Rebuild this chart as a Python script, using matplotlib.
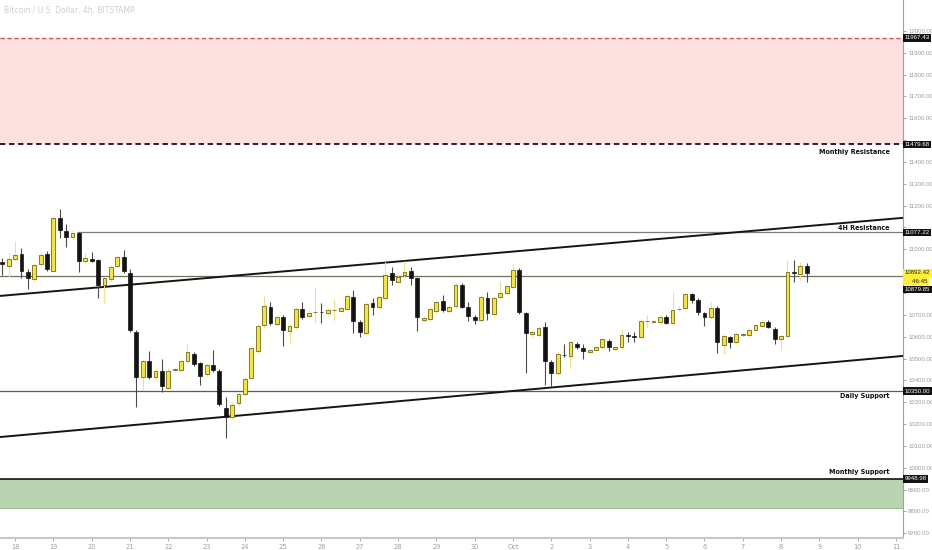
import numpy as np
import pandas as pd
import matplotlib
matplotlib.use("Agg")
import matplotlib.pyplot as plt
import matplotlib.dates as mdates
from datetime import datetime, timedelta

# BTC/USD 4h candles, Sep 17 16:00 -> Oct 8 16:00 (2020)
opens = [10943, 10922, 10954, 10978, 10896, 10864, 10933, 10977, 10902, 11142,
         11085, 11055, 11076, 10945, 10956, 10951, 10837, 10865, 10924, 10963,
         10893, 10623, 10414, 10490, 10414, 10442, 10367, 10447, 10448, 10490,
         10521, 10478, 10429, 10472, 10442, 10275, 10234, 10295, 10336, 10410,
         10536, 10652, 10735, 10658, 10692, 10625, 10646, 10725, 10695, 10712,
         10715, 10707, 10720, 10719, 10728, 10783, 10669, 10618, 10756, 10737,
         10776, 10890, 10852, 10882, 10901, 10870, 10676, 10680, 10718, 10763,
         10719, 10740, 10835, 10737, 10692, 10676, 10778, 10704, 10780, 10799,
         10826, 10905, 10710, 10611, 10606, 10646, 10486, 10432, 10518, 10512,
         10567, 10547, 10530, 10539, 10551, 10582, 10545, 10551, 10607, 10602,
         10597, 10672, 10668, 10667, 10689, 10661, 10726, 10730, 10794, 10767,
         10707, 10689, 10733, 10561, 10597, 10574, 10609, 10608, 10631, 10649,
         10666, 10637, 10588, 10603, 10898, 10887, 10924]
highs = [10959, 10982, 11039, 11005, 10909, 10935, 10985, 10990, 11157, 11183,
         11116, 11090, 11080, 10984, 10986, 10955, 10875, 10930, 10975, 10997,
         10909, 10631, 10500, 10536, 10455, 10497, 10455, 10460, 10500, 10567,
         10530, 10485, 10480, 10539, 10450, 10323, 10300, 10345, 10415, 10555,
         10660, 10786, 10758, 10700, 10700, 10660, 10735, 10760, 10720, 10829,
         10753, 10730, 10771, 10740, 10795, 10814, 10675, 10760, 10776, 10790,
         10943, 10920, 10885, 10948, 10918, 10875, 10695, 10735, 10768, 10791,
         10745, 10845, 10847, 10760, 10698, 10790, 10806, 10785, 10856, 10840,
         10933, 10913, 10715, 10628, 10650, 10669, 10492, 10530, 10567, 10585,
         10575, 10567, 10545, 10558, 10596, 10590, 10558, 10634, 10621, 10623,
         10680, 10698, 10680, 10700, 10697, 10806, 10740, 10804, 10801, 10775,
         10712, 10760, 10740, 10612, 10605, 10620, 10620, 10640, 10660, 10677,
         10676, 10645, 10610, 10951, 10951, 10943, 10939]
lows = [10882, 10875, 10945, 10867, 10817, 10855, 10925, 10900, 10895, 11050,
        11009, 11045, 10898, 10935, 10940, 10776, 10753, 10855, 10915, 10890,
        10620, 10280, 10356, 10405, 10400, 10348, 10360, 10440, 10440, 10480,
        10465, 10379, 10420, 10440, 10285, 10135, 10225, 10285, 10330, 10400,
        10525, 10640, 10655, 10650, 10559, 10570, 10635, 10680, 10685, 10661,
        10664, 10700, 10676, 10712, 10720, 10616, 10600, 10610, 10699, 10730,
        10770, 10837, 10845, 10875, 10837, 10627, 10668, 10672, 10710, 10715,
        10710, 10732, 10730, 10673, 10658, 10668, 10676, 10695, 10772, 10790,
        10818, 10705, 10432, 10600, 10598, 10379, 10374, 10425, 10505, 10455,
        10545, 10498, 10525, 10533, 10545, 10536, 10540, 10545, 10577, 10577,
        10590, 10638, 10660, 10660, 10657, 10655, 10718, 10722, 10753, 10699,
        10649, 10682, 10524, 10521, 10547, 10566, 10600, 10600, 10625, 10643,
        10640, 10567, 10539, 10595, 10852, 10859, 10852]
closes = [10931, 10957, 10974, 10901, 10867, 10928, 10974, 10909, 11145, 11088,
          11055, 11076, 10946, 10960, 10948, 10837, 10867, 10920, 10963, 10901,
          10631, 10417, 10490, 10414, 10442, 10374, 10444, 10450, 10490, 10530,
          10475, 10421, 10470, 10448, 10292, 10234, 10289, 10338, 10405, 10547,
          10650, 10742, 10664, 10692, 10631, 10649, 10725, 10689, 10710, 10715,
          10712, 10722, 10722, 10730, 10786, 10672, 10623, 10750, 10737, 10780,
          10881, 10859, 10875, 10895, 10870, 10689, 10687, 10725, 10757, 10722,
          10737, 10835, 10737, 10696, 10676, 10780, 10707, 10776, 10801, 10832,
          10905, 10714, 10618, 10621, 10641, 10490, 10435, 10521, 10516, 10577,
          10551, 10533, 10539, 10551, 10588, 10554, 10551, 10609, 10605, 10600,
          10670, 10673, 10672, 10692, 10664, 10722, 10728, 10794, 10768, 10714,
          10692, 10733, 10574, 10603, 10576, 10612, 10611, 10631, 10652, 10669,
          10646, 10591, 10603, 10895, 10892, 10922, 10893]

# zones / levels
res_zone = (11479.68, 11967.43)
sup_zone = (9816.0, 9948.98)
res_4h = 11077.22
mid_line = 10879.85
daily_sup = 10350.00
last_price = 10892.42
countdown = "46:45"

# channel lines (date, price)
upper_ch = [("2020-09-17 12:00", 10785), ("2020-10-11 06:00", 11145)]
lower_ch = [("2020-09-17 12:00", 10139), ("2020-10-11 06:00", 10513)]

dates = pd.date_range("2020-09-17 16:00", periods=len(opens), freq="4h")
x = mdates.date2num(dates)
o = np.array(opens); h = np.array(highs); l = np.array(lows); c = np.array(closes)
up = c >= o

fig = plt.figure(figsize=(9.32, 5.5), dpi=100)
ax = fig.add_axes([0, 12 / 550, 903 / 932, 538 / 550])

base = mdates.date2num(datetime(2020, 10, 1))
x0, x1 = base - 13.394, base + 10.183
ax.set_xlim(x0, x1)
ax.set_ylim(9678.6, 12141)

# zones
ax.axhspan(*res_zone, color="#fde1e1", zorder=0, lw=0)
ax.axhline(res_zone[1], color="#d9534f", lw=1.0, ls=(0, (3, 2)), zorder=1)
ax.axhline(res_zone[0], color="#2b0a0a", lw=1.3, ls=(0, (3, 2)), zorder=1)
ax.axhspan(*sup_zone, color="#b8d4b0", zorder=0, lw=0)
ax.axhline(sup_zone[0], color="#9cc092", lw=0.8, zorder=1)
ax.axhline(sup_zone[1], color="#111111", lw=1.2, zorder=1)

# levels
ax.hlines(res_4h, base - 11.38, x1, color="#7d7d7d", lw=0.9, zorder=1)
ax.axhline(mid_line, color="#707060", lw=0.9, zorder=1)
ax.axhline(daily_sup, color="#5a5a5a", lw=0.9, zorder=1)

# channel
for line in (upper_ch, lower_ch):
    xs = [mdates.date2num(pd.Timestamp(d)) for d, _ in line]
    ys = [p for _, p in line]
    ax.plot(xs, ys, color="#151515", lw=1.4, zorder=2)

# candles
wick_col = np.where(up, "#efe38a", "#4a4a4a")
ax.vlines(x, l, h, colors=wick_col, lw=0.8, zorder=3)
bw = 0.1
ax.bar(x[up], np.maximum(c[up] - o[up], 2), bottom=o[up], width=bw,
       color="#f7e43a", edgecolor="#5a5000", linewidth=0.5, zorder=4)
ax.bar(x[~up], np.maximum(o[~up] - c[~up], 2), bottom=c[~up], width=bw,
       color="#141414", edgecolor="#141414", linewidth=0.5, zorder=4)

# level texts
txt_kw = dict(xycoords=("axes fraction", "data"), textcoords="offset points",
              ha="right", va="center", fontsize=5.1, fontweight="bold",
              fontstretch="condensed", color="#111111",
              family=["Liberation Sans Narrow", "DejaVu Sans"])
ax.annotate("Monthly Resistance", xy=(0.985, res_zone[0]), xytext=(0, -5.2), **txt_kw)
ax.annotate("4H Resistance", xy=(0.985, res_4h), xytext=(0, 3), **txt_kw)
ax.annotate("Daily Support", xy=(0.985, daily_sup), xytext=(0, -3.6), **txt_kw)
ax.annotate("Monthly Support", xy=(0.985, sup_zone[1]), xytext=(0, 5), **txt_kw)

# title
ax.text(0.004, 0.988, "Bitcoin / U.S. Dollar, 4h, BITSTAMP", transform=ax.transAxes,
        fontsize=5.5, color="#cfcfcf", ha="left", va="top")

# price axis
for s in ("top", "left"):
    ax.spines[s].set_visible(False)
ax.spines["right"].set_color("#a0a0a0")
ax.spines["bottom"].set_color("#c8c8c8")
ax.spines["bottom"].set_linewidth(1.5)
ax.yaxis.tick_right()
boxed = [res_zone[1], res_zone[0], res_4h, last_price, 10850, 10823, daily_sup, sup_zone[1]]
yt = np.arange(9700, 12001, 100)
ax.set_yticks(yt)
ax.set_yticklabels(["" if min(abs(v - b) for b in boxed) < 30 else f"{v:.2f}" for v in yt],
                   family="Liberation Sans")
ax.tick_params(axis="y", labelsize=4.3, colors="#9a9a9a", length=2.5, width=0.6, pad=1.2)

# date axis
days = [datetime(2020, 9, 18) + timedelta(days=i) for i in range(24)]
ax.set_xticks(mdates.date2num(days))
ax.set_xticklabels(["Oct" if d.day == 1 else str(d.day) for d in days])
ax.tick_params(axis="x", labelsize=4.8, colors="#a0a0a0", length=2.5, width=0.6, pad=2)

# boxed price labels
def tag(val, text, dy=0, fc="#131313", tc="white"):
    ax.annotate(text, xy=(1, val), xycoords=("axes fraction", "data"),
                xytext=(1.2, dy), textcoords="offset points", ha="left", va="center",
                fontsize=4.4, color=tc, family="Liberation Sans", annotation_clip=False,
                bbox=dict(boxstyle="square,pad=0.22", fc=fc, ec="none"))

tag(res_zone[1], f"{res_zone[1]:.2f}")
tag(res_zone[0], f"{res_zone[0]:.2f}")
tag(res_4h, f"{res_4h:.2f}")
tag(last_price, f"{last_price:.2f}", fc="#ffee3a", tc="#222222")
tag(last_price, f"{countdown:>9}", dy=-6.0, fc="#ffee3a", tc="#222222")
tag(last_price, f"{mid_line:.2f}", dy=-12.0)
tag(daily_sup, f"{daily_sup:.2f}")
tag(sup_zone[1], f"{sup_zone[1]:.2f}")

fig.savefig("out.png", dpi=100)
